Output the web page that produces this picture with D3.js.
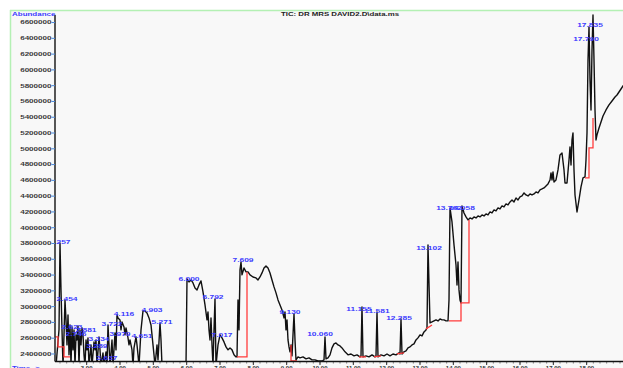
<!DOCTYPE html>
<html>
<head>
<meta charset="utf-8">
<script src="https://cdn.jsdelivr.net/npm/d3@7"></script>
<style>
  html, body { margin: 0; padding: 0; background: #fff; overflow: hidden; }
  text { font-family: "Liberation Sans", Arial, sans-serif; }
</style>
</head>
<body>
<div id="chart"></div>
<script>
var width = 623
var height = 368

// TIC trace, retention time (min) and abundance
var rtTimes = [2.08,2.17,2.20,2.23,2.26,2.29,2.32,2.35,2.38,2.41,2.44,2.47,2.50,2.53,2.56,2.59,2.62,2.65,2.68,2.71,2.74,2.77,2.80,2.83,2.86,2.89,2.92,2.95,2.98,3.01,3.04,3.07,3.13,3.16,3.22,3.25,3.28,3.31,3.37,3.40,3.43,3.49,3.52,3.58,3.61,3.64,3.67,3.70,3.76,3.79,3.85,3.88,3.91,3.94,4.00,4.03,4.06,4.12,4.15,4.18,4.24,4.27,4.30,4.36,4.39,4.42,4.48,4.51,4.54,4.57,4.63,4.69,4.75,4.81,4.87,4.93,4.96,4.99,5.02,5.05,5.11,5.14,5.20,5.23,5.26,5.98,
  6.01,6.07,6.13,6.19,6.25,6.31,6.37,6.43,6.49,6.55,6.61,6.64,6.67,6.70,6.73,6.76,6.79,6.82,6.85,6.88,6.94,7.00,7.06,7.12,7.18,7.24,7.30,7.36,7.42,7.48,7.51,7.54,7.57,7.60,7.63,7.66,7.72,7.78,7.84,7.90,7.99,8.08,8.14,8.20,8.26,8.32,8.38,8.44,8.50,8.56,8.62,8.68,8.74,8.80,8.86,8.92,8.95,8.98,9.01,9.04,9.07,9.10,9.13,9.16,9.22,9.25,9.28,9.34,9.40,9.49,9.58,9.67,9.76,9.85,9.94,
  10.06,10.12,10.15,10.18,10.24,10.30,10.36,10.42,10.48,10.54,10.60,10.66,10.75,10.84,10.93,11.02,11.11,11.20,11.23,11.26,11.29,11.38,11.47,11.56,11.65,11.68,11.71,11.74,11.83,11.92,12.01,12.10,12.19,12.28,12.37,12.40,12.43,12.46,12.52,12.58,12.64,12.70,12.76,12.82,12.88,12.94,13.00,13.06,13.12,13.18,13.21,13.24,13.30,13.36,13.42,13.48,13.54,13.60,13.66,13.72,13.78,13.84,13.87,13.90,13.96,
  14.02,14.08,14.11,14.14,14.17,14.20,14.23,14.26,14.32,14.38,14.44,14.50,14.56,14.62,14.68,14.74,14.80,14.86,14.92,14.98,15.04,15.10,15.16,15.22,15.28,15.34,15.40,15.46,15.52,15.58,15.64,15.70,15.76,15.82,15.88,15.94,16.00,16.06,16.12,16.18,16.24,16.30,16.36,16.42,16.48,16.54,16.60,16.66,16.72,16.78,16.84,16.90,16.93,16.96,16.99,17.02,17.08,17.14,17.20,17.26,17.32,17.35,17.41,17.47,17.50,17.53,17.56,17.59,17.62,17.65,17.71,17.77,17.83,17.89,17.95,17.98,
  18.01,18.04,18.07,18.10,18.13,18.16,18.19,18.22,18.25,18.28,18.31,18.37,18.43,18.49,18.58,18.67,18.76,18.85,18.91,18.97,19.03,19.09,19.18]
var ticValues = [2250000,2705000,3807000,3212000,2705000,2250000,2642000,3085000,2832000,2515000,2895000,2389000,2768000,2250000,2743000,2452000,2705000,2250000,2642000,2578000,2756000,2250000,2705000,2515000,2730000,2642000,2389000,2250000,2578000,2452000,2604000,2250000,2515000,2250000,2553000,2452000,2578000,2250000,2616000,2452000,2250000,2414000,2250000,2427000,2250000,2768000,2515000,2250000,2578000,2250000,2667000,2452000,2895000,2857000,2832000,2705000,2806000,2743000,2642000,2730000,2604000,2515000,2578000,2452000,2250000,2477000,2616000,2515000,2389000,2250000,2705000,2946000,2946000,2920000,2857000,2768000,2642000,2515000,2389000,2250000,2515000,2325000,2794000,2578000,2250000,2250000,
  3351000,3313000,3338000,3300000,3237000,3212000,3275000,3326000,3186000,3022000,2832000,2933000,2705000,2578000,2857000,2515000,2250000,2705000,3098000,2250000,2515000,2642000,2604000,2553000,2490000,2452000,2477000,2452000,2389000,2363000,2363000,3085000,2705000,3465000,3566000,3402000,3490000,3440000,3440000,3402000,3376000,3364000,3338000,3376000,3427000,3490000,3516000,3490000,3427000,3338000,3250000,3174000,3085000,3022000,2958000,2857000,2933000,2705000,2832000,2578000,2490000,2427000,2515000,2376000,2908000,2578000,2325000,2363000,2351000,2363000,2338000,2351000,2325000,2325000,2311000,
  2311000,2325000,2616000,2338000,2351000,2389000,2477000,2528000,2540000,2515000,2502000,2477000,2427000,2389000,2400000,2376000,2389000,2363000,2376000,2996000,2363000,2376000,2363000,2389000,2363000,2376000,2933000,2363000,2389000,2376000,2400000,2376000,2400000,2389000,2414000,2400000,2844000,2400000,2427000,2439000,2477000,2490000,2515000,2528000,2578000,2604000,2642000,2629000,2680000,2705000,2730000,3782000,2794000,2806000,2819000,2832000,2819000,2844000,2832000,2832000,2819000,2819000,3085000,4251000,4073000,
  3782000,3528000,3275000,3566000,3212000,3085000,3047000,4276000,4187000,4137000,4099000,4124000,4111000,4137000,4124000,4149000,4137000,4162000,4149000,4175000,4162000,4200000,4187000,4225000,4213000,4251000,4238000,4276000,4263000,4301000,4289000,4327000,4352000,4327000,4377000,4352000,4390000,4403000,4441000,4415000,4403000,4428000,4415000,4428000,4453000,4441000,4479000,4491000,4504000,4529000,4555000,4605000,4694000,4605000,4707000,4580000,4605000,4732000,4922000,4947000,4732000,4567000,4567000,4859000,5024000,4795000,5112000,5201000,4732000,4415000,4200000,4352000,4517000,4631000,4643000,4859000,
  5201000,6126000,6544000,5872000,5492000,6252000,6696000,6126000,5492000,5112000,5176000,5264000,5340000,5416000,5492000,5556000,5606000,5657000,5682000,5720000,5758000,5796000,5847000]

// integration baselines (red)
var baseTimes = [
  [2.05,2.14,2.14,2.32,2.32,2.50],
  [7.51,7.81,7.81],
  [9.13,9.13,9.31],
  [11.17,11.38],
  [11.62,11.83],
  [12.31,12.52],
  [13.18,13.36],
  [13.87,14.23,14.23,14.47,14.47],
  [17.95,18.07,18.07,18.19,18.19]
]
var baseValues = [
  [2616000,2616000,2490000,2490000,2363000,2363000],
  [2363000,2363000,3440000],
  [2515000,2311000,2311000],
  [2363000,2363000],
  [2363000,2376000],
  [2400000,2414000],
  [2718000,2768000],
  [2819000,2819000,3047000,3047000,4099000],
  [4631000,4631000,5011000,5011000,5391000]
]

// peak labels and where they sit
var peakNames = ["2.257","2.454","2.623","2.881","2.746","3.334","3.289","3.637","3.722","4.116","3.979","4.651","4.903","5.271","6.000","6.792","7.017","7.609","9.130","10.060","11.155","11.581","12.285","13.102","13.762","14.058","17.790","17.835"]
var peakLabelTimes = [2.20,2.41,2.56,2.98,2.68,3.37,3.31,3.61,3.76,4.12,4.00,4.66,4.96,5.26,6.07,6.79,7.06,7.69,9.10,10.00,11.17,11.71,12.37,13.27,13.87,14.26,17.98,18.10]
var peakLabelValues = [3795000,3072000,2718000,2680000,2629000,2566000,2477000,2325000,2756000,2882000,2629000,2604000,2933000,2781000,3326000,3098000,2616000,3566000,2908000,2629000,2946000,2920000,2832000,3718000,4225000,4225000,6367000,6544000]

var yTicks = [2400000,2600000,2800000,3000000,3200000,3400000,3600000,3800000,4000000,4200000,4400000,4600000,4800000,5000000,5200000,5400000,5600000,5800000,6000000,6200000,6400000,6600000]
var xTicks = [3,4,5,6,7,8,9,10,11,12,13,14,15,16,17,18]

var x = d3.scaleLinear().domain([2.05, 19.09]).range([55, 623])
var y = d3.scaleLinear().domain([2311000, 6759000]).range([361, 10])

var svg = d3.select('#chart').append('svg')
svg.attr('width', width).attr('height', height)

// stretch text horizontally like the squashed original
function stretch(sel, k) {
  sel.each(function() {
    var w = this.getComputedTextLength()
    d3.select(this).attr('textLength', w * k).attr('lengthAdjust', 'spacingAndGlyphs')
  })
}

// frame
svg.append('rect').attr('x', 11).attr('y', 10).attr('width', width - 11).attr('height', height - 10)
  .attr('fill', '#f8f8f8')
svg.append('line').attr('x1', 10).attr('x2', width).attr('y1', 10.5).attr('y2', 10.5)
  .attr('stroke', '#b4f0b4').attr('stroke-width', 1.5)
svg.append('line').attr('x1', 10.5).attr('x2', 10.5).attr('y1', 10).attr('y2', height)
  .attr('stroke', '#b4f0b4').attr('stroke-width', 1.5)

svg.append('clipPath').attr('id', 'plotClip')
  .append('rect').attr('x', 55.5).attr('y', 10).attr('width', width - 55).attr('height', 351)

var plot = svg.append('g').attr('clip-path', 'url(#plotClip)')

var trace = d3.line()
  .x(function(d, i) { return x(rtTimes[i]) })
  .y(function(d) { return y(d) })

plot.append('path')
  .datum(ticValues)
  .attr('d', trace)
  .attr('fill', 'none')
  .attr('stroke', '#111')
  .attr('stroke-width', 1.4)
  .attr('stroke-linejoin', 'round')

baseTimes.forEach(function(times, k) {
  var line = d3.line()
    .x(function(d, i) { return x(times[i]) })
    .y(function(d) { return y(d) })
  plot.append('path')
    .datum(baseValues[k])
    .attr('d', line)
    .attr('fill', 'none')
    .attr('stroke', '#ff3b3b')
    .attr('stroke-width', 1.3)
})

var labels = plot.append('g').selectAll('text')
  .data(peakNames)
  .enter().append('text')
  .text(function(d) { return d })
  .attr('x', function(d, i) { return x(peakLabelTimes[i]) })
  .attr('y', function(d, i) { return y(peakLabelValues[i]) })
  .attr('text-anchor', 'middle')
  .attr('font-size', 5.8)
  .attr('font-weight', 'bold')
  .style('fill', '#3a3aff')
stretch(labels, 1.45)

// y axis
var yAxis = svg.append('g')
yAxis.append('line').attr('x1', 55).attr('x2', 55).attr('y1', 15).attr('y2', 361.5)
  .attr('stroke', '#111').attr('stroke-width', 1.4)
yAxis.selectAll('.tick').data(yTicks).enter().append('line')
  .attr('x1', 51.5).attr('x2', 55)
  .attr('y1', function(d) { return y(d) }).attr('y2', function(d) { return y(d) })
  .attr('stroke', '#4a86d8').attr('stroke-width', 1)
var yLabels = yAxis.selectAll('text').data(yTicks).enter().append('text')
  .text(function(d) { return d })
  .attr('x', 51.5)
  .attr('y', function(d) { return y(d) + 1.9 })
  .attr('text-anchor', 'end')
  .attr('font-size', 5.2)
  .attr('font-weight', 'bold')
  .style('fill', '#3a3a3a')
stretch(yLabels, 1.55)

// x axis
var xAxis = svg.append('g')
xAxis.append('line').attr('x1', 55).attr('x2', width).attr('y1', 361.5).attr('y2', 361.5)
  .attr('stroke', '#111').attr('stroke-width', 1.4)
var minor = d3.range(2.2, 19.1, 0.2)
xAxis.selectAll('.minor').data(minor).enter().append('line')
  .attr('x1', function(d) { return x(d) }).attr('x2', function(d) { return x(d) })
  .attr('y1', 362).attr('y2', 363.5)
  .attr('stroke', '#555').attr('stroke-width', 0.8)
xAxis.selectAll('.major').data(xTicks).enter().append('line')
  .attr('x1', function(d) { return x(d) }).attr('x2', function(d) { return x(d) })
  .attr('y1', 362).attr('y2', 365)
  .attr('stroke', '#333').attr('stroke-width', 1)
xAxis.selectAll('text').data(xTicks).enter().append('text')
  .text(function(d) { return d.toFixed(2) })
  .attr('x', function(d) { return x(d) })
  .attr('y', 370)
  .attr('text-anchor', 'middle')
  .attr('font-size', 6)
  .attr('font-weight', 'bold')
  .style('fill', '#333')

// titles
var title = svg.append('text').text('TIC: DR MRS DAVID2.D\\data.ms')
  .attr('x', 340).attr('y', 15.5).attr('text-anchor', 'middle')
  .attr('font-size', 5.8).attr('font-weight', 'bold').style('fill', '#222')
stretch(title, 1.35)
var abund = svg.append('text').text('Abundance')
  .attr('x', 12).attr('y', 15.5)
  .attr('font-size', 5.5).attr('font-weight', 'bold').style('fill', '#3a3aff')
stretch(abund, 1.45)
var timeLabel = svg.append('text').text('Time-->')
  .attr('x', 12).attr('y', 370)
  .attr('font-size', 6).attr('font-weight', 'bold').style('fill', '#3a3aff')
stretch(timeLabel, 1.3)
</script>
</body>
</html>
